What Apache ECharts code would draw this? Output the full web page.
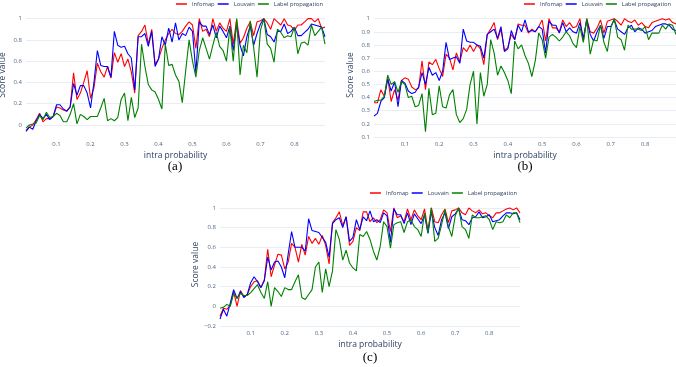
<!DOCTYPE html>
<html>
<head>
<meta charset="utf-8">
<script src="https://cdn.jsdelivr.net/npm/echarts@6/dist/echarts.min.js"></script>
<style>
html, body { margin: 0; padding: 0; background: #fff; }
#chart { width: 676px; height: 367px; }
</style>
</head>
<body>
<div id="chart"></div>
<script>
var intraProbability = [0.01, 0.02, 0.03, 0.04, 0.05, 0.06, 0.07, 0.08, 0.09, 0.10,
    0.11, 0.12, 0.13, 0.14, 0.15, 0.16, 0.17, 0.18, 0.19, 0.20,
    0.21, 0.22, 0.23, 0.24, 0.25, 0.26, 0.27, 0.28, 0.29, 0.30,
    0.31, 0.32, 0.33, 0.34, 0.35, 0.36, 0.37, 0.38, 0.39, 0.40,
    0.41, 0.42, 0.43, 0.44, 0.45, 0.46, 0.47, 0.48, 0.49, 0.50,
    0.51, 0.52, 0.53, 0.54, 0.55, 0.56, 0.57, 0.58, 0.59, 0.60,
    0.61, 0.62, 0.63, 0.64, 0.65, 0.66, 0.67, 0.68, 0.69, 0.70,
    0.71, 0.72, 0.73, 0.74, 0.75, 0.76, 0.77, 0.78, 0.79, 0.80,
    0.81, 0.82, 0.83, 0.84, 0.85, 0.86, 0.87, 0.88, 0.89];

// (a)
var infomapA = [-0.05, -0.02, 0.0, 0.05, 0.11, 0.03, 0.06, 0.06, 0.08, 0.17,
    0.16, 0.14, 0.13, 0.17, 0.49, 0.24, 0.30, 0.40, 0.51, 0.25,
    0.35, 0.58, 0.50, 0.45, 0.55, 0.44, 0.68, 0.59, 0.67, 0.55,
    0.62, 0.50, 0.30, 0.84, 0.88, 0.94, 0.76, 0.90, 0.57, 0.62,
    0.72, 0.80, 0.86, 0.90, 0.86, 0.85, 0.88, 0.93, 0.97, 0.94,
    0.72, 1.0, 0.88, 0.90, 0.83, 1.0, 0.88, 0.96, 0.91, 0.88,
    1.0, 0.76, 0.99, 0.77, 0.82, 0.91, 0.97, 0.84, 0.97, 0.98,
    1.0, 0.96, 0.90, 1.0, 0.97, 0.94, 1.0, 0.94, 0.93, 0.89,
    0.94, 0.94, 0.97, 1.0, 1.0, 0.97, 1.0, 0.91, 0.92];
var louvainA = [-0.06, -0.02, -0.04, 0.04, 0.10, 0.06, 0.10, 0.05, 0.08, 0.19,
    0.19, 0.15, 0.13, 0.17, 0.39, 0.28, 0.37, 0.37, 0.30, 0.16,
    0.40, 0.70, 0.56, 0.55, 0.55, 0.45, 0.88, 0.75, 0.73, 0.74,
    0.67, 0.63, 0.33, 0.83, 0.83, 0.86, 0.74, 0.88, 0.55, 0.62,
    0.83, 0.75, 0.91, 0.78, 0.96, 0.80, 0.86, 0.84, 0.92, 0.88,
    0.49, 0.97, 0.93, 0.93, 0.85, 0.94, 0.82, 0.93, 0.88, 0.82,
    0.93, 0.70, 0.94, 0.75, 0.65, 0.83, 0.93, 0.75, 0.86, 0.95,
    1.0, 0.85, 0.83, 0.78, 0.88, 0.88, 0.95, 0.86, 0.88, 0.92,
    0.84, 0.84, 0.87, 0.90, 0.95, 0.94, 0.93, 0.92, 0.83];
var labelPropA = [-0.03, 0.0, 0.01, 0.02, 0.09, 0.05, 0.12, 0.07, 0.08, 0.11,
    0.09, 0.03, 0.03, 0.10, 0.20, 0.01, 0.10, 0.08, 0.05, 0.08,
    0.08, 0.08, 0.16, 0.25, 0.04, 0.06, 0.04, 0.07, 0.24, 0.30,
    0.04, 0.26, 0.07, 0.16, 0.76, 0.55, 0.38, 0.33, 0.31, 0.24,
    0.15, 0.76, 0.56, 0.57, 0.47, 0.41, 0.21, 0.51, 0.80, 0.60,
    0.45, 0.70, 0.82, 0.72, 0.62, 0.75, 0.87, 0.74, 0.70, 0.60,
    0.92, 0.60, 1.0, 0.47, 0.75, 0.68, 0.98, 0.73, 0.45, 0.89,
    1.0, 0.76, 0.72, 0.59, 0.90, 0.87, 0.82, 0.84, 0.83, 0.92,
    0.67, 0.77, 0.78, 0.75, 0.94, 0.84, 0.88, 0.92, 0.76];

// (b)
var infomapB = [0.36, 0.36, 0.46, 0.41, 0.55, 0.37, 0.46, 0.38, 0.53, 0.55,
    0.54, 0.48, 0.46, 0.47, 0.68, 0.46, 0.67, 0.65, 0.69, 0.62,
    0.56, 0.73, 0.70, 0.61, 0.74, 0.67, 0.78, 0.75, 0.80, 0.75,
    0.80, 0.77, 0.65, 0.88, 0.92, 0.97, 0.84, 0.92, 0.76, 0.78,
    0.88, 0.84, 0.96, 0.95, 0.95, 0.89, 0.92, 0.90, 0.94, 0.99,
    0.83, 1.0, 0.93, 0.93, 0.90, 0.99, 0.94, 0.97, 0.93, 0.94,
    1.0, 0.83, 1.0, 0.90, 0.89, 0.93, 0.99, 0.89, 0.98, 0.99,
    1.0, 0.98, 0.95, 1.0, 0.98, 0.97, 0.99, 0.95, 0.97, 0.94,
    0.93, 0.97, 0.98, 0.99, 1.0, 0.99, 1.0, 0.97, 0.96];
var louvainB = [0.26, 0.28, 0.37, 0.40, 0.54, 0.45, 0.52, 0.33, 0.53, 0.51,
    0.45, 0.43, 0.44, 0.48, 0.59, 0.50, 0.63, 0.57, 0.59, 0.53,
    0.60, 0.82, 0.69, 0.70, 0.71, 0.66, 0.92, 0.83, 0.82, 0.82,
    0.80, 0.79, 0.70, 0.88, 0.90, 0.92, 0.85, 0.94, 0.75, 0.77,
    0.91, 0.84, 0.95, 0.90, 0.99, 0.90, 0.91, 0.90, 0.94, 0.92,
    0.74, 0.98, 0.95, 0.95, 0.89, 0.97, 0.90, 0.93, 0.90, 0.89,
    0.97, 0.85, 0.99, 0.88, 0.83, 0.90, 0.95, 0.85, 0.94, 0.94,
    0.99, 0.92, 0.90, 0.88, 0.93, 0.95, 0.90, 0.93, 0.92, 0.89,
    0.90, 0.91, 0.94, 0.95, 0.96, 0.96, 0.95, 0.92, 0.91];
var labelPropB = [0.37, 0.38, 0.38, 0.41, 0.57, 0.50, 0.52, 0.44, 0.52, 0.50,
    0.40, 0.41, 0.33, 0.34, 0.43, 0.14, 0.47, 0.27, 0.28, 0.49,
    0.33, 0.32, 0.42, 0.46, 0.27, 0.21, 0.24, 0.31, 0.50, 0.60,
    0.20, 0.59, 0.41, 0.50, 0.84, 0.74, 0.57, 0.64, 0.59, 0.53,
    0.43, 0.83, 0.77, 0.80, 0.72, 0.66, 0.56, 0.68, 0.89, 0.84,
    0.70, 0.86, 0.88, 0.86, 0.83, 0.86, 0.90, 0.87, 0.81, 0.78,
    0.94, 0.82, 1.0, 0.73, 0.84, 0.83, 0.95, 0.82, 0.75, 0.93,
    1.0, 0.86, 0.84, 0.76, 0.95, 0.92, 0.92, 0.92, 0.91, 0.94,
    0.84, 0.89, 0.89, 0.89, 0.95, 0.92, 0.96, 0.95, 0.88];

// (c)
var infomapC = [-0.10, -0.02, -0.03, 0.01, 0.15, 0.0, 0.16, 0.10, 0.12, 0.20,
    0.25, 0.26, 0.19, 0.27, 0.58, 0.30, 0.42, 0.53, 0.52, 0.38,
    0.45, 0.64, 0.60, 0.45, 0.63, 0.52, 0.71, 0.64, 0.69, 0.63,
    0.72, 0.62, 0.43, 0.85, 0.90, 0.96, 0.82, 0.91, 0.62, 0.66,
    0.80, 0.77, 0.96, 0.96, 0.86, 0.90, 0.85, 0.88, 0.98, 0.95,
    0.76, 1.0, 0.90, 0.92, 0.86, 0.99, 0.88, 0.98, 0.92, 0.88,
    0.99, 0.77, 1.0, 0.86, 0.85, 0.93, 0.99, 0.85, 0.97, 0.98,
    1.0, 0.95, 0.93, 1.0, 0.97, 0.95, 0.98, 0.94, 0.95, 0.92,
    0.90, 0.95, 0.95, 0.97, 0.99, 1.0, 0.98, 1.0, 0.95];
var louvainC = [-0.13, -0.03, -0.10, 0.03, 0.17, 0.08, 0.15, 0.09, 0.12, 0.24,
    0.30, 0.25, 0.19, 0.26, 0.50, 0.37, 0.45, 0.46, 0.40, 0.29,
    0.53, 0.76, 0.60, 0.60, 0.60, 0.56, 0.89, 0.77, 0.76, 0.75,
    0.70, 0.65, 0.50, 0.84, 0.88, 0.90, 0.80, 0.91, 0.66, 0.70,
    0.88, 0.78, 0.91, 0.87, 0.97, 0.86, 0.88, 0.85, 0.95, 0.92,
    0.65, 0.99, 0.93, 0.93, 0.84, 0.95, 0.83, 0.94, 0.89, 0.84,
    0.93, 0.74, 0.96, 0.80, 0.72, 0.88, 0.95, 0.79, 0.91, 0.94,
    0.99, 0.88, 0.87, 0.83, 0.90, 0.91, 0.96, 0.90, 0.91, 0.93,
    0.86, 0.87, 0.88, 0.92, 0.95, 0.95, 0.94, 0.95, 0.88];
var labelPropC = [-0.02, -0.01, 0.02, 0.0, 0.13, 0.08, 0.13, 0.11, 0.11, 0.14,
    0.18, 0.22, 0.14, 0.08, 0.25, 0.0, 0.19, 0.15, 0.10, 0.19,
    0.17, 0.17, 0.25, 0.32, 0.09, 0.07, 0.12, 0.17, 0.40, 0.45,
    0.14, 0.38, 0.20, 0.36, 0.78, 0.68, 0.47, 0.57, 0.44, 0.39,
    0.36, 0.73, 0.71, 0.76, 0.68, 0.56, 0.47, 0.61, 0.86, 0.81,
    0.59, 0.83, 0.85, 0.86, 0.75, 0.86, 0.88, 0.81, 0.78, 0.71,
    0.95, 0.75, 1.0, 0.66, 0.69, 0.83, 0.98, 0.81, 0.71, 0.92,
    1.0, 0.81, 0.78, 0.69, 0.93, 0.90, 0.90, 0.91, 0.92, 0.88,
    0.78, 0.86, 0.85, 0.86, 0.93, 0.90, 0.95, 0.95, 0.85];

var seriesNames = ['Infomap', 'Louvain', 'Label propagation'];
var seriesColors = ['#ff0000', '#0000ff', '#008000'];
var captions = ['(a)', '(b)', '(c)'];
var xTitle = 'intra probability';
var yTitle = 'Score value';

var panels = [
    { values: [infomapA, louvainA, labelPropA], grid: { left: 26, top: 13, width: 299, height: 124 },
      yMin: -0.113, yMax: 1.053, ySplit: 5, legendRight: 353, legendTop: 1, capX: 175, capY: 167 },
    { values: [infomapB, louvainB, labelPropB], grid: { left: 374, top: 13, width: 302, height: 124 },
      yMin: 0.1, yMax: 1.043, ySplit: 9, legendRight: 5, legendTop: 1, capX: 525, capY: 167 },
    { values: [infomapC, louvainC, labelPropC], grid: { left: 220, top: 203, width: 300, height: 123 },
      yMin: -0.2, yMax: 1.05, ySplit: 6, legendRight: 159, legendTop: 190, capX: 370, capY: 358 }
];

var tickColor = '#506784';
var titleColor = '#2a3f5f';
var gridColor = '#e8ecf3';

function pairs(ys) {
    return intraProbability.map(function (x, i) { return [x, ys[i]]; });
}

function fmtTick(v) {
    var s = String(Math.round(v * 10) / 10);
    return v < 0 ? '\u2212' + s.slice(1) : s;
}

var grids = [], xAxes = [], yAxes = [], series = [], legends = [], graphics = [];

panels.forEach(function (p, k) {
    grids.push(Object.assign({ outerBoundsMode: 'none', containLabel: false }, p.grid));
    xAxes.push({
        type: 'value', gridIndex: k, min: 0.01, max: 0.89, splitNumber: 9,
        axisLine: { show: false }, axisTick: { show: false }, splitLine: { show: false },
        axisLabel: { color: tickColor, fontSize: 6, margin: 4, fontFamily: 'Open Sans',
            showMinLabel: false, showMaxLabel: false, formatter: fmtTick },
        name: xTitle, nameLocation: 'middle', nameGap: 14,
        nameTextStyle: { color: titleColor, fontSize: 8.5, fontFamily: 'Open Sans' }
    });
    yAxes.push({
        type: 'value', gridIndex: k, min: p.yMin, max: p.yMax, splitNumber: p.ySplit,
        axisLine: { show: false }, axisTick: { show: false },
        splitLine: { show: true, showMinLine: k > 0, showMaxLine: false, lineStyle: { color: gridColor, width: 1 } },
        axisLabel: { color: tickColor, fontSize: 6, margin: 4, fontFamily: 'Open Sans',
            showMinLabel: k > 0, showMaxLabel: false, formatter: fmtTick },
        name: yTitle, nameLocation: 'middle', nameGap: 19,
        nameTextStyle: { color: titleColor, fontSize: 8.5, fontFamily: 'Open Sans' }
    });
    p.values.forEach(function (vals, j) {
        series.push({
            type: 'line', name: seriesNames[j], xAxisIndex: k, yAxisIndex: k,
            data: pairs(vals), symbol: 'none', color: seriesColors[j],
            lineStyle: { width: 1.1, color: seriesColors[j] }
        });
    });
    legends.push({
        data: seriesNames, right: p.legendRight, top: p.legendTop, padding: 0,
        icon: 'rect', itemWidth: 11, itemHeight: 1.5, itemGap: 3,
        textStyle: { color: titleColor, fontSize: 5.8, fontFamily: 'Open Sans' }
    });
    graphics.push({
        type: 'text', x: p.capX, y: p.capY,
        style: { text: captions[k], fill: '#000', font: '13px "Liberation Serif"',
            textAlign: 'center', textVerticalAlign: 'middle' }
    });
});

var chart = echarts.init(document.getElementById('chart'));
chart.setOption({
    animation: false,
    backgroundColor: '#fff',
    grid: grids,
    xAxis: xAxes,
    yAxis: yAxes,
    legend: legends,
    series: series,
    graphic: graphics
});
</script>
</body>
</html>
